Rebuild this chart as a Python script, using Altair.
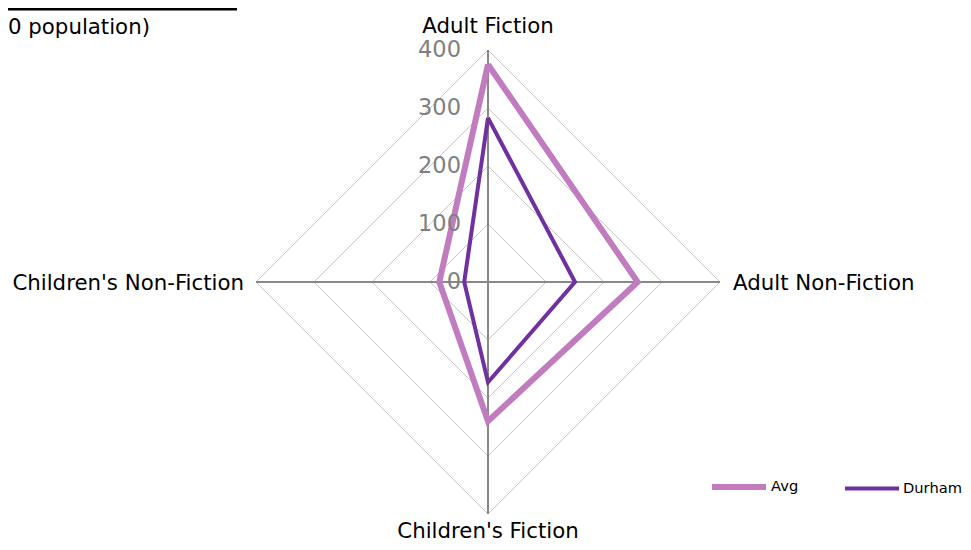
import math
import altair as alt
import pandas as pd

# ---- data ----
categories = ["Adult Fiction", "Adult Non-Fiction", "Children's Fiction", "Children's Non-Fiction"]
avg_values = [375, 258, 240, 84]
durham_values = [283, 150, 173, 41]
series_names = ["Avg", "Durham"]
tick_levels = [0, 100, 200, 300, 400]
grid_levels = [100, 200, 300, 400]
max_value = 400
title_text = "0 population)"

avg_color = "#c07cbe"
durham_color = "#7030a0"
FONT = "DejaVu Sans"

n = len(categories)

# series polygons (closed)
series_rows = []
for name, vals in zip(series_names, [avg_values, durham_values]):
    for i in range(n + 1):
        k = i % n
        series_rows.append({"series": name, "idx": k, "value": vals[k], "order": i})
series_df = pd.DataFrame(series_rows)

grid_rows = []
for lv in grid_levels:
    for i in range(n + 1):
        grid_rows.append({"level": lv, "idx": i % n, "value": lv, "order": i})
grid_df = pd.DataFrame(grid_rows)

spoke_df = pd.DataFrame({"cat": categories, "idx": list(range(n)), "value": [max_value] * n})
tick_df = pd.DataFrame({"level": tick_levels})
label_df = pd.DataFrame({"cat": categories, "idx": list(range(n)), "value": [max_value] * n})

W, H = 955, 534
cx, cy = 480, 274
ppu = 232 / 400
x_scale = alt.Scale(domain=[-cx / ppu, (W - cx) / ppu], nice=False, zero=False)
y_scale = alt.Scale(domain=[-(H - cy) / ppu, cy / ppu], nice=False, zero=False)


def polar_xy(ch):
    return ch.transform_calculate(
        ang=f"datum.idx * 2 * PI / {n}"
    ).transform_calculate(
        px="datum.value * sin(datum.ang)", py="datum.value * cos(datum.ang)"
    )


grid = polar_xy(alt.Chart(grid_df)).mark_line(color="#c8c8c8", strokeWidth=1).encode(
    x=alt.X("px:Q", scale=x_scale, axis=None),
    y=alt.Y("py:Q", scale=y_scale, axis=None),
    detail="level:N",
    order="order:Q",
)

spokes = polar_xy(alt.Chart(spoke_df)).transform_calculate(zero="0").mark_rule(
    color="#888888", strokeWidth=2
).encode(
    x=alt.X("zero:Q", scale=x_scale, axis=None),
    y=alt.Y("zero:Q", scale=y_scale, axis=None),
    x2="px:Q",
    y2="py:Q",
)

lines = polar_xy(alt.Chart(series_df)).mark_line().encode(
    x=alt.X("px:Q", scale=x_scale, axis=None),
    y=alt.Y("py:Q", scale=y_scale, axis=None),
    order="order:Q",
    color=alt.Color(
        "series:N",
        scale=alt.Scale(domain=series_names, range=[avg_color, durham_color]),
        legend=alt.Legend(
            title=None,
            orient="none",
            legendX=701,
            legendY=449,
            direction="horizontal",
            symbolType="stroke",
            symbolSize=2916,
            symbolStrokeWidth=4,
            labelFont=FONT,
            labelFontSize=14.7,
            labelColor="#000000",
            labelOffset=2,
            columnPadding=38,
            padding=0,
        ),
    ),
    strokeWidth=alt.StrokeWidth(
        "series:N", scale=alt.Scale(domain=series_names, range=[6, 4]), legend=None
    ),
)

ticks = alt.Chart(tick_df).transform_calculate(zero="0").mark_text(
    align="right", baseline="middle", dx=-27, font=FONT, fontSize=22.5, color="#7f7f7f"
).encode(
    x=alt.X("zero:Q", scale=x_scale, axis=None),
    y=alt.Y("level:Q", scale=y_scale, axis=None),
    text="level:Q",
)


def cat_labels(filter_expr, **kw):
    return polar_xy(alt.Chart(label_df)).transform_filter(filter_expr).mark_text(
        font=FONT, fontSize=21.3, color="#000000", baseline="middle", **kw
    ).encode(
        x=alt.X("px:Q", scale=x_scale, axis=None),
        y=alt.Y("py:Q", scale=y_scale, axis=None),
        text="cat:N",
    )


lab_top = cat_labels("datum.idx == 0", align="center", dy=-23)
lab_right = cat_labels("datum.idx == 1", align="left", dx=13, dy=2)
lab_bottom = cat_labels("datum.idx == 2", align="center", dy=18)
lab_left = cat_labels("datum.idx == 3", align="right", dx=-12, dy=2)

title_df = pd.DataFrame({"t": [title_text]})
title = alt.Chart(title_df).mark_text(
    align="left", baseline="middle", font=FONT, fontSize=21.3, color="#000000"
).encode(x=alt.value(0), y=alt.value(20), text="t:N")
title_bar = alt.Chart(title_df).mark_rule(color="#000000", strokeWidth=3).encode(
    x=alt.value(0), x2=alt.value(229), y=alt.value(1)
)

chart = alt.layer(
    grid, spokes, lines, ticks, lab_top, lab_right, lab_bottom, lab_left, title, title_bar
).properties(
    width=W, height=H, autosize=alt.AutoSizeParams(type="none"), padding=0
).configure_view(stroke=None)

chart.save("out.html", embed_options={"renderer": "svg", "actions": False})
